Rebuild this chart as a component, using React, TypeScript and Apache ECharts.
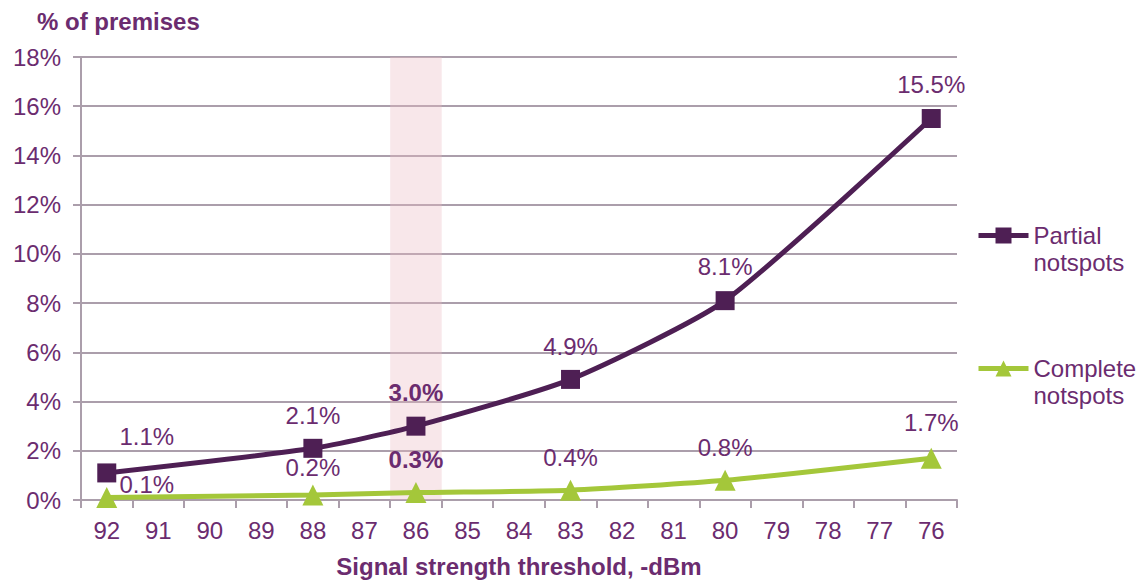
import React, { useEffect, useRef } from "react";
import * as echarts from "echarts";

const categories = ["92", "91", "90", "89", "88", "87", "86", "85", "84", "83", "82", "81", "80", "79", "78", "77", "76"];
const pointCategories = ["92", "88", "86", "83", "80", "76"];
const partialValues = [1.1, 2.1, 3.0, 4.9, 8.1, 15.5];
const completeValues = [0.1, 0.2, 0.3, 0.4, 0.8, 1.7];
const highlightCategory = "86";
const yTicks = [0, 2, 4, 6, 8, 10, 12, 14, 16, 18];

const FONT = "'Liberation Sans', Arial, sans-serif";
const TEXT = "#6b2c6f";
const PURPLE = "#4e1f54";
const GREEN = "#a4c73a";
const GRID = "#ab9eab";

// label offsets [x, y] per point (styling only)
const partialOffsets = [[40, 0], [0, 4], [0, 3], [0, 4], [0, 2], [0, 2]];
const completeOffsets = [[40, 14], [0, 0], [0, -6], [0, -5], [0, -5], [0, -8]];

function buildSeries(values: number[], offsets: number[][]) {
  return categories.map((c) => {
    const i = pointCategories.indexOf(c);
    if (i < 0) return null;
    return {
      value: values[i],
      label: {
        offset: offsets[i],
        fontWeight: c === highlightCategory ? "bold" : "normal",
      },
    };
  });
}

export default function App() {
  const ref = useRef<HTMLDivElement>(null);
  useEffect(() => {
    if (!ref.current) return;
    const chart = echarts.init(ref.current, undefined, { renderer: "svg" });
    const labelBase = {
      show: true,
      position: "top",
      color: TEXT,
      fontSize: 24,
      fontFamily: FONT,
      formatter: (p: any) => `${Number(p.value).toFixed(1)}%`,
    };
    const legendBase = {
      orient: "vertical",
      left: 976,
      padding: 0,
      itemWidth: 50,
      itemHeight: 20,
      itemGap: 6,
      lineStyle: { width: 5 },
      textStyle: { color: TEXT, fontSize: 24, fontFamily: FONT, lineHeight: 27 },
    };
    chart.setOption({
      animation: false,
      backgroundColor: "#ffffff",
      title: {
        text: "% of premises",
        left: 32,
        top: 4,
        textStyle: { color: TEXT, fontSize: 24, fontWeight: "bold", fontFamily: FONT },
      },
      grid: { left: 81, right: 189, top: 57, bottom: 80, containLabel: false, outerBoundsMode: "none" },
      legend: [
        {
          ...legendBase,
          data: [{ name: "Partial notspots" }],
          top: 195,
          formatter: () => " \nPartial\nnotspots",
        },
        {
          ...legendBase,
          data: [{ name: "Complete notspots" }],
          top: 328,
          formatter: () => " \nComplete\nnotspots",
        },
      ],
      xAxis: {
        type: "category",
        data: categories,
        boundaryGap: true,
        name: "Signal strength threshold, -dBm",
        nameLocation: "middle",
        nameGap: 54,
        nameTextStyle: { color: TEXT, fontSize: 24, fontWeight: "bold", fontFamily: FONT },
        axisLine: { lineStyle: { color: GRID, width: 2 } },
        axisTick: { show: true, length: 8, lineStyle: { color: GRID, width: 2 } },
        axisLabel: { color: TEXT, fontSize: 24, fontFamily: FONT, margin: 18 },
        splitLine: { show: false },
      },
      yAxis: {
        type: "value",
        min: yTicks[0],
        max: yTicks[yTicks.length - 1],
        interval: 2,
        axisLine: { show: true, lineStyle: { color: GRID, width: 2 } },
        axisTick: { show: true, length: 8, lineStyle: { color: GRID, width: 2 } },
        axisLabel: { color: TEXT, fontSize: 24, fontFamily: FONT, margin: 20, formatter: (v: number) => `${v}%` },
        splitLine: { show: true, lineStyle: { color: GRID, width: 2 } },
      },
      series: [
        {
          name: "highlight",
          type: "bar",
          data: categories.map((c) => (c === highlightCategory ? yTicks[yTicks.length - 1] : null)),
          barWidth: "100%",
          itemStyle: { color: "rgba(236,186,194,0.35)" },
          silent: true,
          z: 1,
        },
        {
          name: "Partial notspots",
          type: "line",
          data: buildSeries(partialValues, partialOffsets),
          connectNulls: true,
          smooth: 0.2,
          symbol: "rect",
          symbolSize: 19,
          lineStyle: { color: PURPLE, width: 5 },
          itemStyle: { color: PURPLE },
          label: { ...labelBase, distance: 15 },
          z: 3,
        },
        {
          name: "Complete notspots",
          type: "line",
          data: buildSeries(completeValues, completeOffsets),
          connectNulls: true,
          smooth: 0.2,
          symbol: "triangle",
          symbolSize: 21,
          lineStyle: { color: GREEN, width: 5 },
          itemStyle: { color: GREEN },
          label: { ...labelBase, distance: 5 },
          z: 3,
        },
      ],
    });
    return () => chart.dispose();
  }, []);
  return <div ref={ref} style={{ width: 1146, height: 580, position: "absolute", left: 0, top: 0 }} />;
}
